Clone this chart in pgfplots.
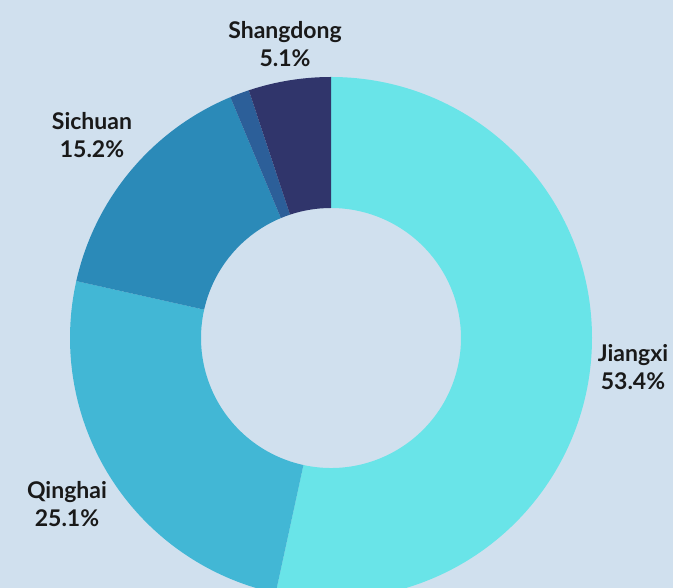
\documentclass[border=0pt]{standalone}
\usepackage{pgfplots}
\usepackage{pgfplotstable}
\pgfplotsset{compat=1.18}
\usepackage{fontspec}
\setmainfont{Lato}
\definecolor{bgc}{HTML}{D0E0EE}
\definecolor{col0}{HTML}{69E4E8}
\definecolor{col1}{HTML}{42B7D5}
\definecolor{col2}{HTML}{2B8AB8}
\definecolor{col3}{HTML}{2C5F99}
\definecolor{col4}{HTML}{30356B}

\pgfplotstableread{
label value
Jiangxi 53.4
Qinghai 25.1
Sichuan 15.2
Other 1.2
Shangdong 5.1
}\datatable

\gdef\cum{0}
\pgfplotsforeachungrouped \i in {0,...,4}{%
  \pgfplotstablegetelem{\i}{value}\of\datatable
  \let\v\pgfplotsretval
  \pgfmathsetmacro\aone{90-3.6*\cum}%
  \pgfmathsetmacro\atwo{90-3.6*(\cum+\v)}%
  \pgfmathsetmacro\newcum{\cum+\v}%
  \global\let\cum\newcum
  \expandafter\xdef\csname aone\i\endcsname{\aone}%
  \expandafter\xdef\csname atwo\i\endcsname{\atwo}%
}

\begin{document}
\begin{tikzpicture}
\begin{axis}[
  x=1pt, y=1pt,
  xmin=0, xmax=673, ymin=0, ymax=588,
  axis lines=none, ticks=none,
  clip=true,
]
\fill[bgc] (rel axis cs:0,0) rectangle (rel axis cs:1,1);
\pgfplotsinvokeforeach{0,...,4}{
  \edef\temp{\noexpand\fill[col#1] (axis cs:331,250) ++(\csname aone#1\endcsname:261pt)
    arc[start angle=\csname aone#1\endcsname, end angle=\csname atwo#1\endcsname, radius=261pt]
    -- ++(\csname atwo#1\endcsname+180:131pt)
    arc[start angle=\csname atwo#1\endcsname, end angle=\csname aone#1\endcsname, radius=130pt]
    -- cycle;}
  \temp
}
\tikzset{lab/.style={align=center, font=\bfseries\fontsize{23}{28}\selectfont, text=black!90}}
\node[lab] at (axis cs:285,544) {Shangdong\\5.1\%};
\node[lab] at (axis cs:92,453) {Sichuan\\15.2\%};
\node[lab] at (axis cs:633,221) {Jiangxi\\53.4\%};
\node[lab] at (axis cs:67,84) {Qinghai\\25.1\%};
\end{axis}
\pgfresetboundingbox
\useasboundingbox (current axis.south west) rectangle (current axis.north east);
\end{tikzpicture}
\end{document}
